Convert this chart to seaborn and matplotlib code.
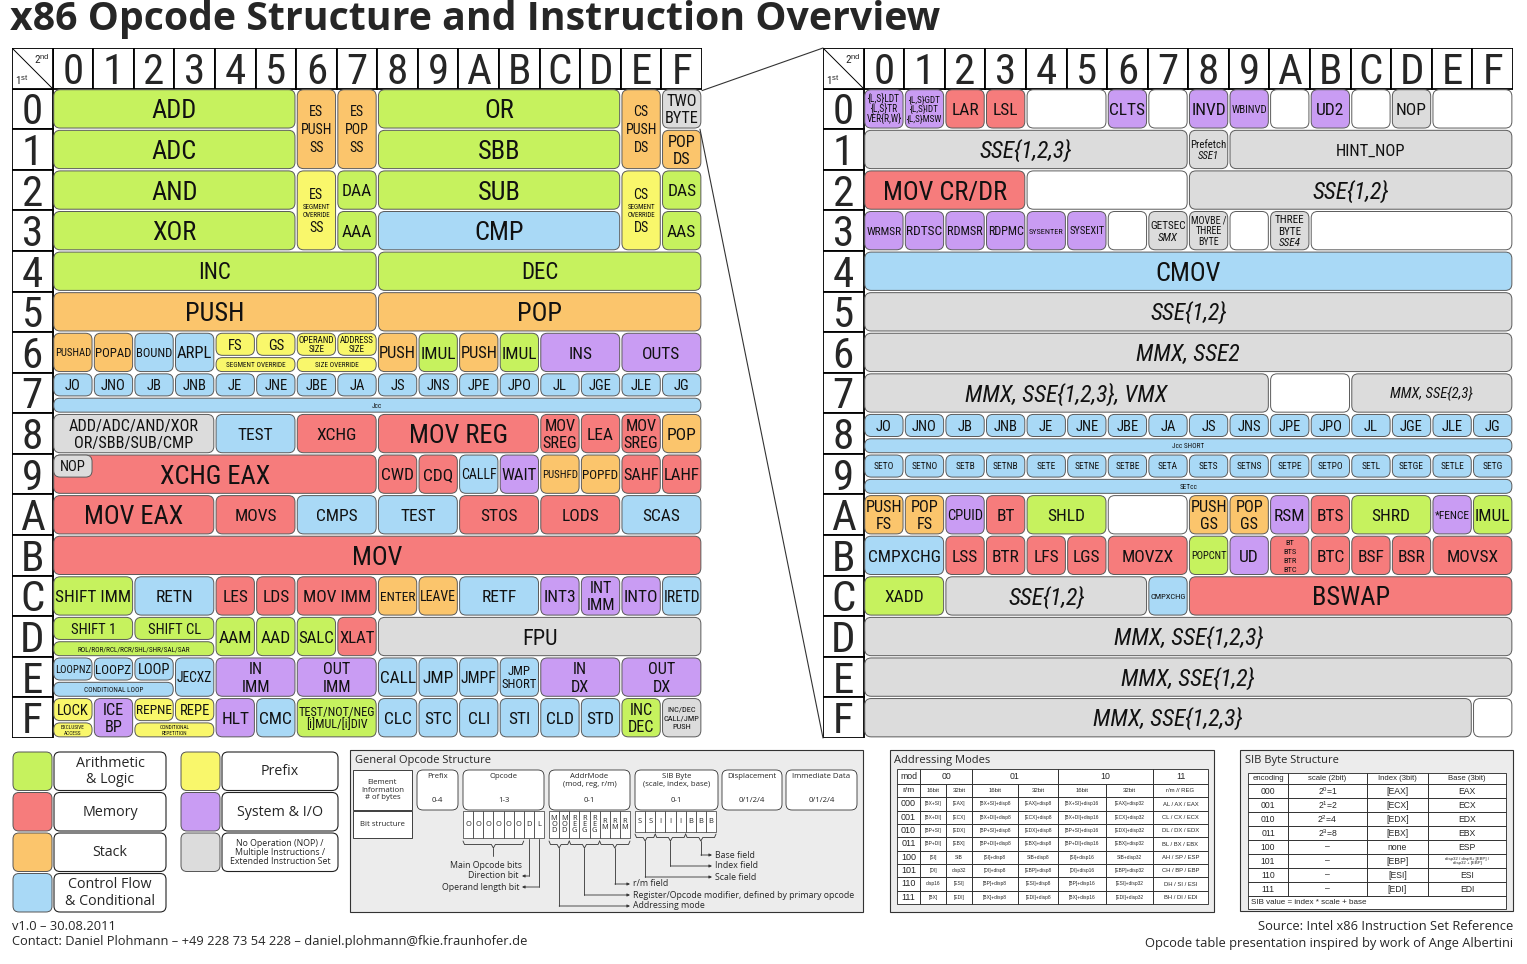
import matplotlib
matplotlib.use("Agg")
import numpy as np
import pandas as pd
import seaborn as sns
import matplotlib.pyplot as plt
from matplotlib.patches import FancyBboxPatch, Rectangle, ConnectionPatch
from matplotlib.textpath import TextPath
from matplotlib.font_manager import FontProperties, fontManager

sns.set_theme(style="white")

# pick the narrowest humanist sans that is installed
_names = {f.name for f in fontManager.ttflist}
NSTRETCH = 'normal'
_narrow = None
for cand in ['Liberation Sans Narrow', 'Roboto Condensed', 'Noto Sans Condensed', 'Open Sans Condensed',
             'DejaVu Sans Condensed', 'Noto Sans SemiCondensed', 'Open Sans SemiCondensed']:
    if cand in _names:
        _narrow = cand
        break
if _narrow is None:
    for f in fontManager.ttflist:
        if f.name in ('Noto Sans', 'DejaVu Sans', 'Open Sans', 'Roboto') and \
                str(f.stretch) in ('condensed', 'semi-condensed') and f.style == 'normal':
            _narrow, NSTRETCH = f.name, 'condensed'
            break
if _narrow is None:
    _narrow = 'Roboto' if 'Roboto' in _names else 'Liberation Sans'
NARROW = [_narrow, 'DejaVu Sans']
HUMAN = ['Open Sans', 'DejaVu Sans']
ARIAL = ['Liberation Sans', 'DejaVu Sans']
plt.rcParams['font.family'] = NARROW
plt.rcParams['mathtext.fontset'] = 'custom'
plt.rcParams['mathtext.rm'] = 'Liberation Sans'
plt.rcParams['mathtext.it'] = 'Liberation Sans:italic'
plt.rcParams['mathtext.bf'] = 'Liberation Sans:bold'

W, H, DPI = 1527, 964, 100
PT = DPI / 72.0

# ---------------------------------------------------------------- data
TITLE = "x86 Opcode Structure and Instruction Overview"
HEX = list("0123456789ABCDEF")
CATEGORY_KEYS = ["A", "M", "S", "C", "P", "Y", "N", "W"]
CATEGORY_HEX = ["#C6F25E", "#F67C7C", "#FBC56C", "#A9D9F6",
                "#F9F76B", "#C99CF3", "#DCDCDC", "#FFFFFF"]
PALETTE = dict(zip(CATEGORY_KEYS, sns.color_palette(CATEGORY_HEX)))

JCC = ["JO", "JNO", "JB", "JNB", "JE", "JNE", "JBE", "JA",
       "JS", "JNS", "JPE", "JPO", "JL", "JGE", "JLE", "JG"]
SETCC = ["SETO", "SETNO", "SETB", "SETNB", "SETE", "SETNE", "SETBE", "SETA",
         "SETS", "SETNS", "SETPE", "SETPO", "SETL", "SETGE", "SETLE", "SETG"]

# (opcode, columns spanned, rows spanned, label, category)
ONE_BYTE_CELLS = [
    (0x00, 6, 1, "ADD", "A"), (0x06, 1, 2, "ES\nPUSH\nSS", "S"), (0x07, 1, 2, "ES\nPOP\nSS", "S"),
    (0x08, 6, 1, "OR", "A"), (0x0E, 1, 2, "CS\nPUSH\nDS", "S"), (0x0F, 1, 1, "TWO\nBYTE", "N"),
    (0x10, 6, 1, "ADC", "A"), (0x18, 6, 1, "SBB", "A"), (0x1F, 1, 1, "POP\nDS", "S"),
    (0x20, 6, 1, "AND", "A"), (0x26, 1, 2, "ES\n~SEGMENT\n~OVERRIDE\nSS", "P"), (0x27, 1, 1, "DAA", "A"),
    (0x28, 6, 1, "SUB", "A"), (0x2E, 1, 2, "CS\n~SEGMENT\n~OVERRIDE\nDS", "P"), (0x2F, 1, 1, "DAS", "A"),
    (0x30, 6, 1, "XOR", "A"), (0x37, 1, 1, "AAA", "A"), (0x38, 6, 1, "CMP", "C"), (0x3F, 1, 1, "AAS", "A"),
    (0x40, 8, 1, "INC", "A"), (0x48, 8, 1, "DEC", "A"),
    (0x50, 8, 1, "PUSH", "S"), (0x58, 8, 1, "POP", "S"),
    (0x60, 1, 1, "PUSHAD", "S"), (0x61, 1, 1, "POPAD", "S"), (0x62, 1, 1, "BOUND", "C"), (0x63, 1, 1, "ARPL", "C"),
    (0x68, 1, 1, "PUSH", "S"), (0x69, 1, 1, "IMUL", "A"), (0x6A, 1, 1, "PUSH", "S"), (0x6B, 1, 1, "IMUL", "A"),
    (0x6C, 2, 1, "INS", "Y"), (0x6E, 2, 1, "OUTS", "Y"),
    (0x80, 4, 1, "ADD/ADC/AND/XOR\nOR/SBB/SUB/CMP", "N"), (0x84, 2, 1, "TEST", "C"), (0x86, 2, 1, "XCHG", "M"),
    (0x88, 4, 1, "MOV REG", "M"), (0x8C, 1, 1, "MOV\nSREG", "M"), (0x8D, 1, 1, "LEA", "M"),
    (0x8E, 1, 1, "MOV\nSREG", "M"), (0x8F, 1, 1, "POP", "S"),
    (0x90, 8, 1, "XCHG EAX", "M"), (0x98, 1, 1, "CWD", "M"), (0x99, 1, 1, "CDQ", "M"), (0x9A, 1, 1, "CALLF", "C"),
    (0x9B, 1, 1, "WAIT", "Y"), (0x9C, 1, 1, "PUSHFD", "S"), (0x9D, 1, 1, "POPFD", "S"),
    (0x9E, 1, 1, "SAHF", "M"), (0x9F, 1, 1, "LAHF", "M"),
    (0xA0, 4, 1, "MOV EAX", "M"), (0xA4, 2, 1, "MOVS", "M"), (0xA6, 2, 1, "CMPS", "C"), (0xA8, 2, 1, "TEST", "C"),
    (0xAA, 2, 1, "STOS", "M"), (0xAC, 2, 1, "LODS", "M"), (0xAE, 2, 1, "SCAS", "C"),
    (0xB0, 16, 1, "MOV", "M"),
    (0xC0, 2, 1, "SHIFT IMM", "A"), (0xC2, 2, 1, "RETN", "C"), (0xC4, 1, 1, "LES", "M"), (0xC5, 1, 1, "LDS", "M"),
    (0xC6, 2, 1, "MOV IMM", "M"), (0xC8, 1, 1, "ENTER", "S"), (0xC9, 1, 1, "LEAVE", "S"), (0xCA, 2, 1, "RETF", "C"),
    (0xCC, 1, 1, "INT3", "Y"), (0xCD, 1, 1, "INT\nIMM", "Y"), (0xCE, 1, 1, "INTO", "Y"), (0xCF, 1, 1, "IRETD", "C"),
    (0xD4, 1, 1, "AAM", "A"), (0xD5, 1, 1, "AAD", "A"), (0xD6, 1, 1, "SALC", "A"), (0xD7, 1, 1, "XLAT", "M"),
    (0xD8, 8, 1, "FPU", "N"),
    (0xE3, 1, 1, "JECXZ", "C"), (0xE4, 2, 1, "IN\nIMM", "Y"), (0xE6, 2, 1, "OUT\nIMM", "Y"),
    (0xE8, 1, 1, "CALL", "C"), (0xE9, 1, 1, "JMP", "C"), (0xEA, 1, 1, "JMPF", "C"), (0xEB, 1, 1, "JMP\nSHORT", "C"),
    (0xEC, 2, 1, "IN\nDX", "Y"), (0xEE, 2, 1, "OUT\nDX", "Y"),
    (0xF1, 1, 1, "ICE\nBP", "Y"), (0xF4, 1, 1, "HLT", "Y"), (0xF5, 1, 1, "CMC", "C"),
    (0xF6, 2, 1, "TEST/NOT/NEG\n[i]MUL/[i]DIV", "A"),
    (0xF8, 1, 1, "CLC", "C"), (0xF9, 1, 1, "STC", "C"), (0xFA, 1, 1, "CLI", "C"), (0xFB, 1, 1, "STI", "C"),
    (0xFC, 1, 1, "CLD", "C"), (0xFD, 1, 1, "STD", "C"), (0xFE, 1, 1, "INC\nDEC", "A"),
    (0xFF, 1, 1, "INC/DEC\nCALL/JMP\nPUSH", "N"),
]
# upper part of a split row: (opcode, columns, label, category)
ONE_BYTE_TOPS = [
    (0x64, 1, "FS", "P"), (0x65, 1, "GS", "P"), (0x66, 1, "OPERAND\nSIZE", "P"), (0x67, 1, "ADDRESS\nSIZE", "P"),
] + [(0x70 + i, 1, j, "C") for i, j in enumerate(JCC)] + [
    (0x90, 1, "NOP", "N"), (0xD0, 2, "SHIFT 1", "A"), (0xD2, 2, "SHIFT CL", "A"),
    (0xE0, 1, "LOOPNZ", "C"), (0xE1, 1, "LOOPZ", "C"), (0xE2, 1, "LOOP", "C"),
    (0xF0, 1, "LOCK", "P"), (0xF2, 1, "REPNE", "P"), (0xF3, 1, "REPE", "P"),
]
# lower strip of a split row
ONE_BYTE_STRIPS = [
    (0x64, 2, "SEGMENT OVERRIDE", "P"), (0x66, 2, "SIZE OVERRIDE", "P"), (0x70, 16, "Jcc", "C"),
    (0xD0, 4, "ROL/ROR/RCL/RCR/SHL/SHR/SAL/SAR", "A"), (0xE0, 3, "CONDITIONAL LOOP", "C"),
    (0xF0, 1, "EXCLUSIVE\nACCESS", "P"), (0xF2, 2, "CONDITIONAL\nREPETITION", "P"),
]

TWO_BYTE_CELLS = [
    (0x00, 1, 1, "{L,S}LDT\n{L,S}TR\nVER{R,W}", "Y"), (0x01, 1, 1, "{L,S}GDT\n{L,S}IDT\n{L,S}MSW", "Y"),
    (0x02, 1, 1, "LAR", "M"), (0x03, 1, 1, "LSL", "M"), (0x04, 2, 1, "", "W"), (0x06, 1, 1, "CLTS", "Y"),
    (0x07, 1, 1, "", "W"), (0x08, 1, 1, "INVD", "Y"), (0x09, 1, 1, "WBINVD", "Y"), (0x0A, 1, 1, "", "W"),
    (0x0B, 1, 1, "UD2", "Y"), (0x0C, 1, 1, "", "W"), (0x0D, 1, 1, "NOP", "N"), (0x0E, 2, 1, "", "W"),
    (0x10, 8, 1, "/SSE{1,2,3}", "N"), (0x18, 1, 1, "Prefetch\n/SSE1", "N"), (0x19, 7, 1, "HINT_NOP", "N"),
    (0x20, 4, 1, "MOV CR/DR", "M"), (0x24, 4, 1, "", "W"), (0x28, 8, 1, "/SSE{1,2}", "N"),
    (0x30, 1, 1, "WRMSR", "Y"), (0x31, 1, 1, "RDTSC", "Y"), (0x32, 1, 1, "RDMSR", "Y"), (0x33, 1, 1, "RDPMC", "Y"),
    (0x34, 1, 1, "SYSENTER", "Y"), (0x35, 1, 1, "SYSEXIT", "Y"), (0x36, 1, 1, "", "W"),
    (0x37, 1, 1, "GETSEC\n/SMX", "N"), (0x38, 1, 1, "MOVBE /\nTHREE\nBYTE", "N"), (0x39, 1, 1, "", "W"),
    (0x3A, 1, 1, "THREE\nBYTE\n/SSE4", "N"), (0x3B, 5, 1, "", "W"),
    (0x40, 16, 1, "CMOV", "C"),
    (0x50, 16, 1, "/SSE{1,2}", "N"),
    (0x60, 16, 1, "/MMX, SSE2", "N"),
    (0x70, 10, 1, "/MMX, SSE{1,2,3}, VMX", "N"), (0x7A, 2, 1, "", "W"), (0x7C, 4, 1, "/MMX, SSE{2,3}", "N"),
    (0xA0, 1, 1, "PUSH\nFS", "S"), (0xA1, 1, 1, "POP\nFS", "S"), (0xA2, 1, 1, "CPUID", "Y"), (0xA3, 1, 1, "BT", "M"),
    (0xA4, 2, 1, "SHLD", "A"), (0xA6, 2, 1, "", "W"), (0xA8, 1, 1, "PUSH\nGS", "S"), (0xA9, 1, 1, "POP\nGS", "S"),
    (0xAA, 1, 1, "RSM", "Y"), (0xAB, 1, 1, "BTS", "M"), (0xAC, 2, 1, "SHRD", "A"), (0xAE, 1, 1, "*FENCE", "Y"),
    (0xAF, 1, 1, "IMUL", "A"),
    (0xB0, 2, 1, "CMPXCHG", "C"), (0xB2, 1, 1, "LSS", "M"), (0xB3, 1, 1, "BTR", "M"), (0xB4, 1, 1, "LFS", "M"),
    (0xB5, 1, 1, "LGS", "M"), (0xB6, 2, 1, "MOVZX", "M"), (0xB8, 1, 1, "POPCNT", "A"), (0xB9, 1, 1, "UD", "Y"),
    (0xBA, 1, 1, "BT\nBTS\nBTR\nBTC", "M"), (0xBB, 1, 1, "BTC", "M"), (0xBC, 1, 1, "BSF", "M"),
    (0xBD, 1, 1, "BSR", "M"), (0xBE, 2, 1, "MOVSX", "M"),
    (0xC0, 2, 1, "XADD", "A"), (0xC2, 5, 1, "/SSE{1,2}", "N"), (0xC7, 1, 1, "CMPXCHG", "C"), (0xC8, 8, 1, "BSWAP", "M"),
    (0xD0, 16, 1, "/MMX, SSE{1,2,3}", "N"),
    (0xE0, 16, 1, "/MMX, SSE{1,2}", "N"),
    (0xF0, 15, 1, "/MMX, SSE{1,2,3}", "N"), (0xFF, 1, 1, "", "W"),
]
TWO_BYTE_TOPS = [(0x80 + i, 1, j, "C") for i, j in enumerate(JCC)] + \
                [(0x90 + i, 1, s, "C") for i, s in enumerate(SETCC)]
TWO_BYTE_STRIPS = [(0x80, 16, "Jcc SHORT", "C"), (0x90, 16, "SETcc", "C")]

LEGEND_LABELS = ["Arithmetic\n& Logic", "Memory", "Stack", "Control Flow\n& Conditional",
                 "Prefix", "System & I/O",
                 "No Operation (NOP) /\nMultiple Instructions /\nExtended Instruction Set"]
LEGEND_CATS = ["A", "M", "S", "C", "P", "Y", "N"]

OPC_FIELDS = ["Prefix", "Opcode", "AddrMode\n(mod, reg, r/m)", "SIB Byte\n(scale, index, base)",
              "Displacement", "Immediate Data"]
OPC_BYTES = ["0-4", "1-3", "0-1", "0-1", "0/1/2/4", "0/1/2/4"]
OPC_BITS = [["O", "O", "O", "O", "O", "O", "D", "L"],
            ["M\nO\nD", "M\nO\nD", "R\nE\nG", "R\nE\nG", "R\nE\nG", "R\nM", "R\nM", "R\nM"],
            ["S", "S", "I", "I", "I", "B", "B", "B"]]

AM_MOD = ["mod", "00", "01", "10", "11"]
AM_SUB = ["r/m", "16bit", "32bit", "16bit", "32bit", "16bit", "32bit", "r/m // REG"]
AM_RM = ["000", "001", "010", "011", "100", "101", "110", "111"]
AM_ROWS = [
    ["[BX+SI]", "[EAX]", "[BX+SI]+disp8", "[EAX]+disp8", "[BX+SI]+disp16", "[EAX]+disp32", "AL / AX / EAX"],
    ["[BX+DI]", "[ECX]", "[BX+DI]+disp8", "[ECX]+disp8", "[BX+DI]+disp16", "[ECX]+disp32", "CL / CX / ECX"],
    ["[BP+SI]", "[EDX]", "[BP+SI]+disp8", "[EDX]+disp8", "[BP+SI]+disp16", "[EDX]+disp32", "DL / DX / EDX"],
    ["[BP+DI]", "[EBX]", "[BP+DI]+disp8", "[EBX]+disp8", "[BP+DI]+disp16", "[EBX]+disp32", "BL / BX / EBX"],
    ["[SI]", "SIB", "[SI]+disp8", "SIB+disp8", "[SI]+disp16", "SIB+disp32", "AH / SP / ESP"],
    ["[DI]", "disp32", "[DI]+disp8", "[EBP]+disp8", "[DI]+disp16", "[EBP]+disp32", "CH / BP / EBP"],
    ["disp16", "[ESI]", "[BP]+disp8", "[ESI]+disp8", "[BP]+disp16", "[ESI]+disp32", "DH / SI / ESI"],
    ["[BX]", "[EDI]", "[BX]+disp8", "[EDI]+disp8", "[BX]+disp16", "[EDI]+disp32", "BH / DI / EDI"],
]

SIB_HEAD = ["encoding", "scale (2bit)", "Index (3bit)", "Base (3bit)"]
SIB_ENC = ["000", "001", "010", "011", "100", "101", "110", "111"]
SIB_SCALE = ["2$^0$=1", "2$^1$=2", "2$^2$=4", "2$^3$=8", "–", "–", "–", "–"]
SIB_INDEX = ["[EAX]", "[ECX]", "[EDX]", "[EBX]", "none", "[EBP]", "[ESI]", "[EDI]"]
SIB_BASE = ["EAX", "ECX", "EDX", "EBX", "ESP", "disp32 / disp8+ [EBP] /\ndisp32 + [EBP]", "ESI", "EDI"]
SIB_NOTE = "SIB value = index * scale + base"

FOOT_LEFT = ["v1.0 – 30.08.2011",
             "Contact: Daniel Plohmann – +49 228 73 54 228 – daniel.plohmann@fkie.fraunhofer.de"]
FOOT_RIGHT = ["Source: Intel x86 Instruction Set Reference",
              "Opcode table presentation inspired by work of Ange Albertini"]

SIZE_OVERRIDE = {"HINT_NOP": 12.0, "MMX, SSE{2,3}": 10.5, "FPU": 16.0, "INC": 16.5, "DEC": 16.5}

# ---------------------------------------------------------------- helpers
_mcache = {}


def measure(s, italic=False):
    key = (s, italic)
    if key not in _mcache:
        fp = FontProperties(family=NARROW, style='italic' if italic else 'normal', stretch=NSTRETCH)
        _mcache[key] = TextPath((0, 0), s, size=1, prop=fp).get_extents().width
    return _mcache[key]


def put_lines(ax, cx, cy, wu, hu, label, maxfs, upx, tall=False):
    lines = []
    for raw in label.split('\n'):
        small = raw.startswith('~')
        raw = raw.lstrip('~')
        ital = raw.startswith('/')
        if ital:
            raw = raw[1:]
        lines.append((raw, small, ital))
    big = [l for l in lines if not l[1]]
    sml = [l for l in lines if l[1]]
    wpx = wu * upx - 6
    hpx = hu * upx - 4
    fs = maxfs
    if any(it for t, s, it in big):
        fs = min(fs, 17)
    for t, s, it in big:
        fs = min(fs, wpx / (measure(t, it) * PT))
    sfs = 5.0
    for t, s, it in sml:
        sfs = min(sfs, wpx / (measure(t, it) * PT))
    spitch = sfs * PT * 1.1
    pf = 1.3 if tall else 1.05
    nb = len(big)
    if nb:
        avail = hpx - spitch * len(sml)
        emmax = avail / (1.25 if nb == 1 else nb * pf + 0.15)
        fs = min(fs, emmax / PT)
    key = big[0][0] if nb == 1 else None
    if key in SIZE_OVERRIDE:
        fs = SIZE_OVERRIDE[key]
    if key is not None and key.startswith("SET"):
        fs = min(fs, 6.8)
    pitches = [(sfs * PT * 1.1 if s else fs * PT * pf) for t, s, it in lines]
    total = sum(pitches) / upx
    y = cy - total / 2
    for (t, s, it), p in zip(lines, pitches):
        f = sfs if s else fs
        yc = y + p / upx / 2
        ax.text(cx, yc + 0.36 * f * PT / upx, t, ha='center', va='baseline', fontsize=f,
                style='italic' if it else 'normal', color='#111111', family=NARROW, fontstretch=NSTRETCH)
        y += p / upx


def cell(ax, x, y, w, h, label, cat, maxfs, upx, tall=False):
    g = 0.028
    rs = min(0.16, (h - 2 * g) * 0.45)
    ax.add_patch(FancyBboxPatch((x + g, y + g), w - 2 * g, h - 2 * g,
                                boxstyle=f"round,pad=0,rounding_size={rs}",
                                fc=PALETTE[cat], ec='#5a5a5a', lw=0.7))
    if label:
        put_lines(ax, x + w / 2, y + h / 2, w, h, label, maxfs, upx, tall)


def draw_table(ax, cells, tops, strips):
    upx = 690 / 17.0
    ax.set_xlim(-1, 16)
    ax.set_ylim(16, -1)
    ax.set_axis_off()
    hfs = 31
    em = hfs * PT / upx
    for i, d in enumerate(HEX):
        ax.add_patch(Rectangle((i, -1), 1, 1, fc='white', ec='black', lw=1.3))
        ax.add_patch(Rectangle((-1, i), 1, 1, fc='white', ec='black', lw=1.3))
        ax.text(i + 0.5, -0.5 + 0.36 * em, d, ha='center', va='baseline', fontsize=hfs, family=NARROW,
                fontstretch=NSTRETCH)
        ax.text(-0.5, i + 0.5 + 0.36 * em, d, ha='center', va='baseline', fontsize=hfs, family=NARROW,
                fontstretch=NSTRETCH)
    ax.add_patch(Rectangle((-1, -1), 1, 1, fc='white', ec='black', lw=1.3))
    ax.plot([-1, 0], [-1, 0], color='black', lw=0.7)
    ax.text(-0.07, -0.72, "2$^{\\mathrm{nd}}$", ha='right', va='center', fontsize=8)
    ax.text(-0.93, -0.2, "1$^{\\mathrm{st}}$", ha='left', va='center', fontsize=8)
    for op, nc, nr, lab, cat in cells:
        r, c = divmod(op, 16)
        mx = 10.0 if nr > 1 else (19 if nc >= 3 else 12.5)
        cell(ax, c, r, nc, nr, lab, cat, mx, upx, tall=nr > 1)
    for op, nc, lab, cat in tops:
        r, c = divmod(op, 16)
        cell(ax, c, r, nc, 0.6, lab, cat, 10.5, upx)
    for op, nc, lab, cat in strips:
        r, c = divmod(op, 16)
        cell(ax, c, r + 0.6, nc, 0.4, lab, cat, 5.2, upx)


# ---------------------------------------------------------------- figure
fig = plt.figure(figsize=(W / DPI, H / DPI), dpi=DPI)
fig.patch.set_facecolor('white')
ov = fig.add_axes([0, 0, 1, 1])
ov.set_xlim(0, W)
ov.set_ylim(H, 0)
ov.set_axis_off()
ov.patch.set_alpha(0)

axL = fig.add_axes([12 / W, 1 - 738 / H, 690 / W, 690 / H])
axR = fig.add_axes([823 / W, 1 - 738 / H, 690 / W, 690 / H])
draw_table(axL, ONE_BYTE_CELLS, ONE_BYTE_TOPS, ONE_BYTE_STRIPS)
draw_table(axR, TWO_BYTE_CELLS, TWO_BYTE_TOPS, TWO_BYTE_STRIPS)

for a, b in [((16, 0.05), (-1, -1)), ((15.95, 1), (-1, 16))]:
    con = ConnectionPatch(xyA=a, coordsA=axL.transData, xyB=b, coordsB=axR.transData,
                          color='#333333', lw=0.8)
    fig.add_artist(con)

# title
ov.text(10, 30, TITLE, fontsize=28.3, fontweight='bold', family=HUMAN, va='baseline', ha='left')

# legend
for i, (lab, cat) in enumerate(zip(LEGEND_LABELS, LEGEND_CATS)):
    col, row = (0, i) if i < 4 else (1, i - 4)
    x0 = 12 if col == 0 else 180
    lw_ = 112 if col == 0 else 116
    y0 = 751 + row * 40.5
    ov.add_patch(FancyBboxPatch((x0 + 1, y0 + 1), 39, 38.5, boxstyle="round,pad=0,rounding_size=6",
                                fc=PALETTE[cat], ec='#555555', lw=0.7))
    ov.add_patch(FancyBboxPatch((x0 + 42, y0 + 1), lw_, 38.5, boxstyle="round,pad=0,rounding_size=6",
                                fc='white', ec='#222222', lw=0.8))
    fsz = 6.3 if lab.count('\n') == 2 else 10.3
    ov.text(x0 + 42 + lw_ / 2, y0 + 20.5, lab, ha='center', va='center', fontsize=fsz,
            family=HUMAN, linespacing=1.05 if fsz < 7 else 1.1)

# general opcode structure
PANEL = '#ECECEC'
ov.add_patch(Rectangle((350, 750), 513, 162, fc=PANEL, ec='#333333', lw=0.8))
ov.text(355, 760, "General Opcode Structure", fontsize=8, family=HUMAN, va='center')
ov.add_patch(Rectangle((353, 770), 59, 40, fc='white', ec='#222222', lw=0.6))
ov.text(382.5, 790, "Element\nInformation\n# of bytes", fontsize=5.6, ha='center', va='center',
        linespacing=1.05, family=HUMAN)
ov.add_patch(Rectangle((353, 811), 59, 27, fc='white', ec='#222222', lw=0.6))
ov.text(382.5, 824.5, "Bit structure", fontsize=5.6, ha='center', va='center', family=HUMAN)
FIELD_X = [(417, 458), (463, 544), (549, 630), (635, 718), (722, 782), (786, 857)]
for (x0, x1), name, nb in zip(FIELD_X, OPC_FIELDS, OPC_BYTES):
    ov.add_patch(FancyBboxPatch((x0, 770), x1 - x0, 40, boxstyle="round,pad=0,rounding_size=6",
                                fc='white', ec='#333333', lw=0.6))
    ov.text((x0 + x1) / 2, 773, name, ha='center', va='top', fontsize=5.6, linespacing=1.1, family=HUMAN)
    ov.text((x0 + x1) / 2, 801, nb, ha='center', va='center', fontsize=5.6, family=HUMAN)
BIT_X = [(463, 544, 838), (549, 630, 838), (635, 716, 832)]
for (x0, x1, yb), bits in zip(BIT_X, OPC_BITS):
    bw = (x1 - x0) / len(bits)
    for k, b in enumerate(bits):
        ov.add_patch(Rectangle((x0 + k * bw, 811), bw, yb - 811, fc='white', ec='#333333', lw=0.5))
        ov.text(x0 + (k + 0.5) * bw, (811 + yb) / 2, b, ha='center', va='center', fontsize=5.4,
                linespacing=0.85, family=HUMAN)


def brace(x0, x1, y):
    m = (x0 + x1) / 2
    xs = [x0, x0 + 1.5, m - 2, m, m + 2, x1 - 1.5, x1]
    ys = [y, y + 3.5, y + 3.5, y + 7, y + 3.5, y + 3.5, y]
    ov.plot(xs, ys, color='#333333', lw=0.6)
    return m, y + 7


def elbow(x, y0, y1, x_end):
    ov.plot([x, x], [y0, y1], color='#333333', lw=0.6)
    ov.annotate('', xy=(x_end, y1), xytext=(x, y1),
                arrowprops=dict(arrowstyle='-|>', lw=0.6, color='#333333', mutation_scale=4,
                                shrinkA=0, shrinkB=0))


ANNO_FS = 6.3
bw = 81 / 8
m, yb = brace(463, 463 + 6 * bw, 841)
ov.plot([m, m], [yb, 856], color='#333333', lw=0.6)
ov.text(486, 866, "Main Opcode bits", ha='center', va='center', fontsize=ANNO_FS, family=HUMAN)
elbow(463 + 6.5 * bw, 839, 876, 522)
ov.text(519, 876, "Direction bit", ha='right', va='center', fontsize=ANNO_FS, family=HUMAN)
elbow(463 + 7.5 * bw, 839, 887, 522)
ov.text(519, 887, "Operand length bit", ha='right', va='center', fontsize=ANNO_FS, family=HUMAN)

for (a, b), yy, txt in [((0, 2), 906, "Addressing mode"),
                        ((2, 5), 895, "Register/Opcode modifier, defined by primary opcode"),
                        ((5, 8), 884, "r/m field")]:
    m, yb = brace(549 + a * bw, 549 + b * bw, 841)
    elbow(m, yb, yy, 630)
    ov.text(633, yy, txt, ha='left', va='center', fontsize=ANNO_FS, family=HUMAN)
for (a, b), yy, txt in [((0, 2), 877, "Scale field"), ((2, 5), 866, "Index field"),
                        ((5, 8), 855, "Base field")]:
    m, yb = brace(635 + a * bw, 635 + b * bw, 834)
    elbow(m, yb, yy, 712)
    ov.text(715, yy, txt, ha='left', va='center', fontsize=ANNO_FS, family=HUMAN)

# addressing modes
ov.add_patch(Rectangle((890, 750), 324, 162, fc=PANEL, ec='#333333', lw=0.8))
ov.text(894, 760, "Addressing Modes", fontsize=8, family=HUMAN, va='center')
AX = [897, 920, 946, 972, 1018, 1058, 1106, 1153, 1208]
AY = [769, 784, 797, 811, 824, 837, 851, 864, 877, 891, 904]


def tcell(x0, x1, y0, y1, txt, fs, ha='center', fam=ARIAL):
    ov.add_patch(Rectangle((x0, y0), x1 - x0, y1 - y0, fc='white', ec='#222222', lw=0.6))
    if txt:
        xt = (x0 + x1) / 2 if ha == 'center' else x0 + 3
        ov.text(xt, (y0 + y1) / 2, txt, ha=ha, va='center', fontsize=fs, family=fam, linespacing=1.0)


spans = [(0, 1), (1, 3), (3, 5), (5, 7), (7, 8)]
for (a, b), t in zip(spans, AM_MOD):
    tcell(AX[a], AX[b], AY[0], AY[1], t, 6.3)
for k, t in enumerate(AM_SUB):
    tcell(AX[k], AX[k + 1], AY[1], AY[2], t, 6.0 if k == 0 else 4.3)
for r, (rm, row) in enumerate(zip(AM_RM, AM_ROWS)):
    tcell(AX[0], AX[1], AY[r + 2], AY[r + 3], rm, 6.5)
    for k, t in enumerate(row):
        tcell(AX[k + 1], AX[k + 2], AY[r + 2], AY[r + 3], t, 3.5 if k < 6 else 4.2)

# SIB byte structure
ov.add_patch(Rectangle((1240, 750), 273, 161, fc=PANEL, ec='#333333', lw=0.8))
ov.text(1245, 760, "SIB Byte Structure", fontsize=8, family=HUMAN, va='center')
SX = [1248, 1288, 1367, 1428, 1506]
SY = [773, 784, 798, 812, 826, 840, 854, 868, 882, 896, 909]
for k, t in enumerate(SIB_HEAD):
    tcell(SX[k], SX[k + 1], SY[0], SY[1], t, 5.6)
for r in range(8):
    vals = [SIB_ENC[r], SIB_SCALE[r], SIB_INDEX[r], SIB_BASE[r]]
    for k, t in enumerate(vals):
        tcell(SX[k], SX[k + 1], SY[r + 1], SY[r + 2], t, 3.2 if '\n' in t else 6.2)
tcell(SX[0], SX[4], SY[9], SY[10], SIB_NOTE, 5.8, ha='left')

# footer
ov.text(12, 926, FOOT_LEFT[0], fontsize=9.3, family=HUMAN, va='center')
ov.text(12, 941, FOOT_LEFT[1], fontsize=9.3, family=HUMAN, va='center')
ov.text(1513, 926, FOOT_RIGHT[0], fontsize=9.3, family=HUMAN, va='center', ha='right')
ov.text(1513, 943, FOOT_RIGHT[1], fontsize=9.3, family=HUMAN, va='center', ha='right')

fig.savefig("out.png", dpi=DPI, facecolor='white')
